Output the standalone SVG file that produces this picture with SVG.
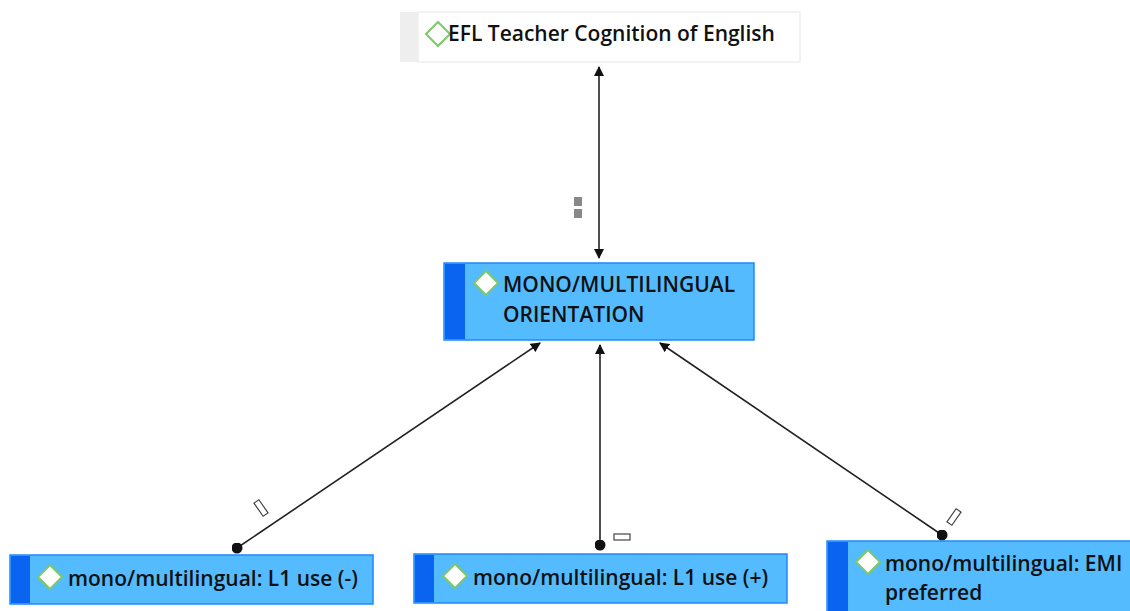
<svg xmlns="http://www.w3.org/2000/svg" width="1130" height="611" viewBox="0 0 1130 611">
  <style>
    .lbl { font-family: "Open Sans", "Noto Sans", "DejaVu Sans", sans-serif; font-size: 21px; font-weight: 600; fill: #111; }
    .code { fill: #55BBFF; stroke: #1E88FF; stroke-width: 1.5; }
    .bar { fill: #0A64F0; }
    .dia { fill: #fff; stroke: #7CC86A; stroke-width: 2; }
    .edge { stroke: #222; stroke-width: 1.6; fill: none; }
    .tag { fill: #fff; stroke: #444; stroke-width: 1.2; }
  </style>
  <defs>
    <marker id="arrow" viewBox="0 0 10 10" refX="9" refY="5" markerWidth="10" markerHeight="10" markerUnits="userSpaceOnUse" orient="auto-start-reverse">
      <path d="M0,0 L10,5 L0,10 z" fill="#111"/>
    </marker>
    <marker id="dot" viewBox="0 0 10 10" refX="5" refY="5" markerWidth="11" markerHeight="11" markerUnits="userSpaceOnUse">
      <circle cx="5" cy="5" r="5" fill="#111"/>
    </marker>
    <!-- shared code-node diamond icon, centred on the origin -->
    <path id="diamond" class="dia" d="M0,-12 L12,0 L0,12 L-12,0 z"/>
  </defs>

  <rect width="1130" height="611" fill="#fff"/>

  <g id="connectors">
    <line class="edge" x1="599" y1="67" x2="599" y2="258" marker-start="url(#arrow)" marker-end="url(#arrow)"/>
    <rect x="574" y="197" width="8" height="9" fill="#888"/>
    <rect x="574" y="209" width="8" height="9" fill="#888"/>

    <line class="edge" x1="237" y1="548" x2="540" y2="343" marker-start="url(#dot)" marker-end="url(#arrow)"/>
    <rect class="tag" x="-3" y="-8" width="6" height="16" transform="translate(261 508) rotate(-35)"/>

    <line class="edge" x1="600" y1="545" x2="600" y2="345" marker-start="url(#dot)" marker-end="url(#arrow)"/>
    <rect class="tag" x="614" y="534" width="16" height="6"/>

    <line class="edge" x1="942" y1="535" x2="660" y2="343" marker-start="url(#dot)" marker-end="url(#arrow)"/>
    <rect class="tag" x="-3" y="-8" width="6" height="16" transform="translate(954 517) rotate(35)"/>
  </g>

  <g id="node-efl">
    <rect x="400" y="12" width="18" height="50" fill="#EEEEEE"/>
    <rect x="418" y="12" width="382" height="50" fill="#fff" stroke="#EEEEEE" stroke-width="1.5"/>
    <use href="#diamond" x="438" y="34"/>
    <text class="lbl" x="448" y="41">EFL Teacher Cognition of English</text>
  </g>

  <g id="node-orientation">
    <rect class="code" x="444" y="263" width="310" height="77"/>
    <rect class="bar" x="445" y="264" width="20" height="75"/>
    <use href="#diamond" x="486" y="283"/>
    <text class="lbl" x="503" y="292">MONO/MULTILINGUAL</text>
    <text class="lbl" x="503" y="322">ORIENTATION</text>
  </g>

  <g id="node-l1-minus">
    <rect class="code" x="10" y="555" width="363" height="49"/>
    <rect class="bar" x="11" y="556" width="19" height="47"/>
    <use href="#diamond" x="50" y="577"/>
    <text class="lbl" x="68" y="586">mono/multilingual: L1 use (-)</text>
  </g>

  <g id="node-l1-plus">
    <rect class="code" x="414" y="554" width="373" height="49"/>
    <rect class="bar" x="415" y="555" width="19" height="47"/>
    <use href="#diamond" x="455" y="576"/>
    <text class="lbl" x="473" y="585">mono/multilingual: L1 use (+)</text>
  </g>

  <g id="node-emi">
    <rect class="code" x="827" y="541" width="310" height="75"/>
    <rect class="bar" x="828" y="542" width="20" height="70"/>
    <use href="#diamond" x="868" y="562"/>
    <text class="lbl" x="885" y="571">mono/multilingual: EMI</text>
    <text class="lbl" x="885" y="600">preferred</text>
  </g>
</svg>
